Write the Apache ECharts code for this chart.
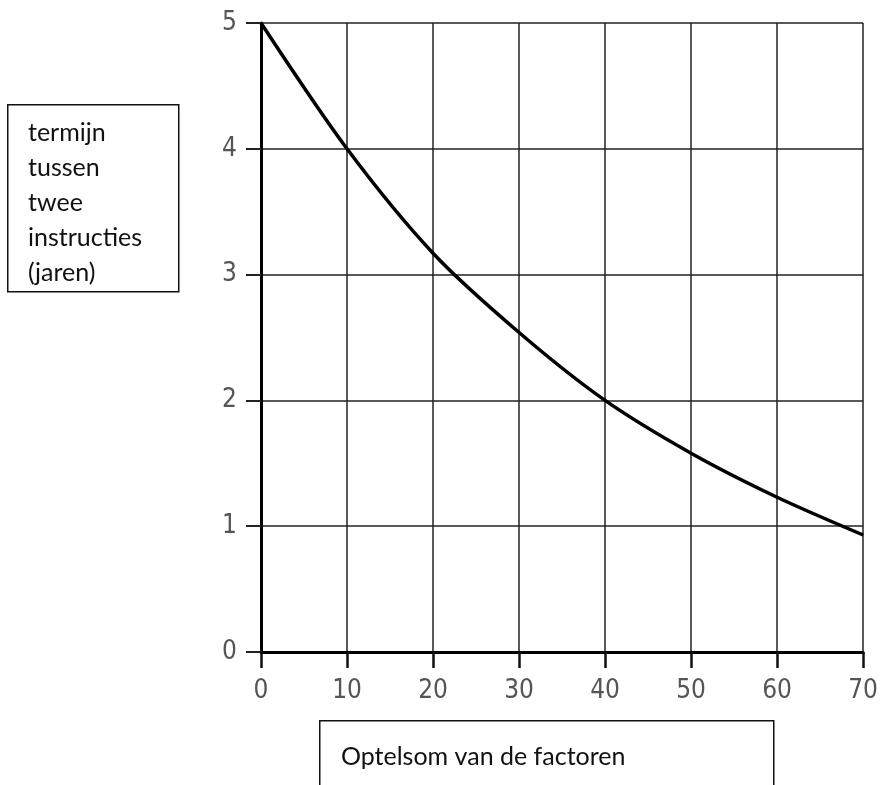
<!DOCTYPE html>
<html>
<head>
<meta charset="utf-8">
<script src="https://cdn.jsdelivr.net/npm/echarts@6/dist/echarts.min.js"></script>
<style>
  html, body { margin: 0; padding: 0; background: #fff; }
  #chart { width: 881px; height: 785px; }
</style>
</head>
<body>
<div id="chart"></div>
<script>
// Data
const xValues = [0, 10, 20, 30, 40, 50, 60, 70];
const yValues = [5.0, 4.0, 3.17, 2.54, 2.0, 1.58, 1.23, 0.93];
const yAxisTitleLines = ['termijn', 'tussen', 'twee', 'instructies', '(jaren)'];
const xAxisTitle = 'Optelsom van de factoren';

const curve = xValues.map((x, i) => [x, yValues[i]]);
const tickFont = "'Liberation Sans Narrow', 'DejaVu Sans Condensed', sans-serif";

const chart = echarts.init(document.getElementById('chart'), null, { renderer: 'canvas' });
chart.setOption({
  backgroundColor: '#ffffff',
  animation: false,
  grid: { left: 261, right: 16, top: 23, bottom: 133, containLabel: false },
  xAxis: {
    type: 'value', min: 0, max: 70, interval: 10,
    axisLine: { show: true, onZero: false, lineStyle: { color: '#000', width: 3 } },
    axisTick: { show: true, inside: false, length: 16, lineStyle: { color: '#111', width: 2.5 } },
    axisLabel: { color: '#555', fontFamily: tickFont, fontSize: 26, margin: 26 },
    splitLine: { show: true, lineStyle: { color: '#222', width: 1.5 } }
  },
  yAxis: {
    type: 'value', min: 0, max: 5, interval: 1,
    axisLine: { show: true, onZero: false, lineStyle: { color: '#000', width: 3 } },
    axisTick: { show: true, inside: false, length: 15, lineStyle: { color: '#222', width: 2 } },
    axisLabel: { color: '#555', fontFamily: tickFont, fontSize: 26, margin: 24 },
    splitLine: { show: true, lineStyle: { color: '#222', width: 1.5 } }
  },
  series: [{
    type: 'line',
    data: curve,
    smooth: 0.3,
    showSymbol: false,
    lineStyle: { color: '#000', width: 3.5 },
    z: 5
  }],
  graphic: [
    {
      type: 'rect', left: 7, top: 104,
      shape: { width: 171, height: 187 },
      style: { fill: '#fff', stroke: '#111', lineWidth: 1.5 }
    },
    {
      type: 'text', left: 28, top: 115,
      style: {
        text: yAxisTitleLines.join('\n'),
        font: "25px Lato, 'Open Sans', sans-serif",
        lineHeight: 35,
        fill: '#111'
      }
    },
    {
      type: 'rect', left: 319, top: 720,
      shape: { width: 454, height: 90 },
      style: { fill: '#fff', stroke: '#111', lineWidth: 1.5 }
    },
    {
      type: 'text', left: 341, top: 744,
      style: {
        text: xAxisTitle,
        font: "25px Lato, 'Open Sans', sans-serif",
        fill: '#111'
      }
    }
  ]
});
</script>
</body>
</html>
